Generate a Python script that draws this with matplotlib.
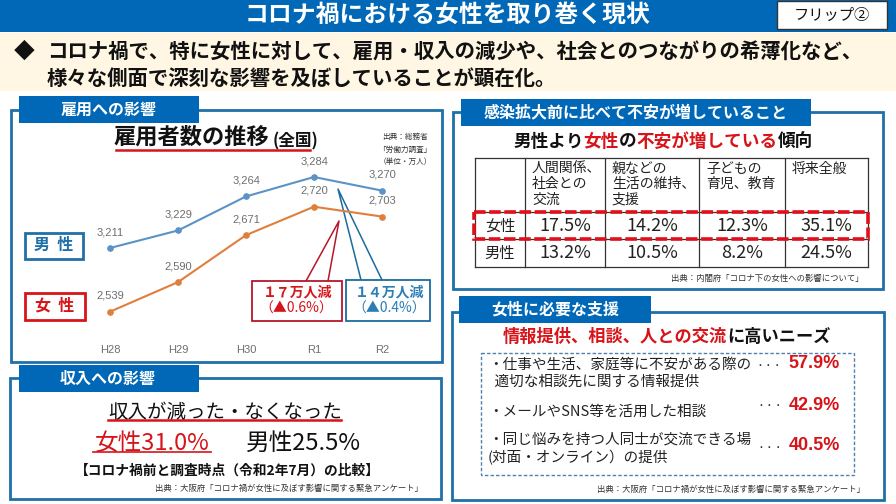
import matplotlib
matplotlib.use("Agg")
import matplotlib.pyplot as plt
from matplotlib.patches import Rectangle

plt.rcParams['font.family'] = ['Noto Sans CJK JP', 'DejaVu Sans']

# ---- data ----
years = ["H28", "H29", "H30", "R1", "R2"]
male = [3211, 3229, 3264, 3284, 3270]
female = [2539, 2590, 2671, 2720, 2703]

table_heads = ["人間関係、\n社会との\n交流", "親などの\n生活の維持、\n支援", "子どもの\n育児、教育", "将来全般"]
table_female = ["17.5%", "14.2%", "12.3%", "35.1%"]
table_male = ["13.2%", "10.5%", "8.2%", "24.5%"]

needs_text = ["・仕事や生活、家庭等に不安がある際の\n  適切な相談先に関する情報提供",
              "・メールやSNS等を活用した相談",
              "・同じ悩みを持つ人同士が交流できる場\n(対面・オンライン）の提供"]
needs_vals = ["57.9%", "42.9%", "40.5%"]

BLUE = "#0068B7"
FRAME = "#1F6FA8"
RED = "#D7141A"
LBLUE = "#5B93C7"
ORANGE = "#E07F3C"
GREY = "#6E6E6E"
INK = "#111111"

W, H = 896, 504
fig = plt.figure(figsize=(W / 100, H / 100), dpi=100, facecolor="white")
bg = fig.add_axes([0, 0, 1, 1])
bg.set_xlim(0, W)
bg.set_ylim(H, 0)
bg.axis("off")


def T(x, y, s, size, color=INK, weight="normal", ha="center", va="center", z=5, **kw):
    return bg.text(x, y, s, fontsize=size, color=color, fontweight=weight,
                   ha=ha, va=va, zorder=z, **kw)


def R(x0, y0, x1, y1, fc="none", ec="none", lw=0, z=1, **kw):
    bg.add_patch(Rectangle((x0, y0), x1 - x0, y1 - y0, fc=fc, ec=ec, lw=lw, zorder=z, **kw))


def runs(x, y, parts, size, weight="bold"):
    r = fig.canvas.get_renderer()
    for s, c in parts:
        t = T(x, y, s, size, c, weight, ha="left")
        x += t.get_window_extent(r).width


def panel(x0, y0, x1, y1, tx0, ty0, tx1, ty1, title, title_x, tsize=11.5):
    R(x0, y0, x1, y1, fc="white", ec=FRAME, lw=2, z=1)
    R(tx0, ty0, tx1, ty1, fc=BLUE, z=2)
    T(title_x, (ty0 + ty1) / 2, title, tsize, "white", "bold")


# header
R(0, 0, W, 32, fc=BLUE)
T(448, 15, "コロナ禍における女性を取り巻く現状", 17.2, "white", "bold")
R(777, 1, 887, 29, fc="white", ec="#333333", lw=1, z=2)
T(832, 15, "フリップ②", 11, INK, "normal")
R(0, 33, W, 91, fc="#FFF6E3")
T(24, 52, "◆", 15, INK, ha="center")
T(47, 52, "コロナ禍で、特に女性に対して、雇用・収入の減少や、社会とのつながりの希薄化など、", 14.7, INK, "bold", ha="left")
T(47, 78, "様々な側面で深刻な影響を及ぼしていることが顕在化。", 14.7, INK, "bold", ha="left")

# panels
panel(11, 110, 442, 362, 19, 96, 199, 123, "雇用への影響", 109)
panel(10, 378, 441, 499, 19, 365, 199, 392, "収入への影響", 108)
panel(453, 112, 883, 289, 461, 99, 811, 126, "感染拡大前に比べて不安が増していること", 636, 11.5)
panel(452, 312, 884, 500, 459, 296, 651, 323, "女性に必要な支援", 555)

# line chart: men and women have separate scales in the original
ax_m = fig.add_axes([76 / W, 1 - 340 / H, 340 / W, 220 / H])
ax_f = ax_m.twinx()
x = list(range(len(years)))
for ax, vals, col, lim in [(ax_m, male, LBLUE, (3116.4, 3342.6)),
                           (ax_f, female, ORANGE, (2490.2, 2869.5))]:
    ax.plot(x, vals, color=col, lw=1.5, marker="o", ms=3.8, zorder=3)
    ax.set_ylim(*lim)
    ax.set_yticks([])
    for xi, v in zip(x, vals):
        ax.annotate(f"{v:,}", (xi, v), xytext=(0, 11.5), textcoords="offset points",
                    ha="center", va="center", fontsize=8, color=GREY,
                    family=["Liberation Sans"])
ax_m.set_xlim(-0.5, 4.5)
ax_m.set_xticks(x, years)
ax_m.tick_params(axis="x", length=0, pad=3.5, labelcolor=GREY, labelsize=8)
for lab in ax_m.get_xticklabels():
    lab.set_family(["Liberation Sans"])
for ax in (ax_m, ax_f):
    ax.patch.set_alpha(0)
    for s in ax.spines.values():
        s.set_visible(False)
ax_m.set_zorder(5)
ax_f.set_zorder(5)

T(191, 137, "雇用者数の推移", 16, INK, "bold")
T(295, 141, "(全国)", 12, INK, "bold")
bg.plot([116, 310], [150, 150], color=RED, lw=1.8, zorder=6)
T(405, 137, "出典：総務省", 5.5, "#333333")
T(405, 150, "「労働力調査」", 5.5, "#333333")
T(405, 162, "（単位・万人）", 5.5, "#333333")

R(25, 233, 83, 259, fc="white", ec=FRAME, lw=2, z=3)
T(54, 245, "男  性", 11.5, FRAME, "bold")
R(25, 293, 85, 320, fc="white", ec=RED, lw=2, z=3)
T(55, 306, "女  性", 11.5, RED, "bold")

# callouts
bg.plot([306, 339, 328], [281, 221, 281], color="#B5172B", lw=1.1, zorder=7)
bg.plot([361, 338, 382], [280, 189, 280], color="#1B6C9E", lw=1.1, zorder=7)
R(252, 281, 342, 321, fc="white", ec="#B5172B", lw=1.3, z=8)
R(346, 280, 430, 321, fc="white", ec="#1B6C9E", lw=1.3, z=8)
T(298, 292, "１７万人減", 10, RED, "bold", z=9)
T(296, 309, "（▲0.6%）", 10, RED, z=9)
T(390, 292, "１４万人減", 10, "#2A7DB5", "bold", z=9)
T(389, 309, "（▲0.4%）", 10, "#2A7DB5", z=9)

# income
T(225, 412, "収入が減った・なくなった", 14, INK)
bg.plot([108, 341], [419.5, 419.5], color=RED, lw=1.8, zorder=6)
T(152, 443, "女性31.0%", 17, RED)
bg.plot([93, 211], [452, 452], color=RED, lw=1.2, zorder=6)
T(303, 443, "男性25.5%", 17, INK)
T(227, 471, "【コロナ禍前と調査時点（令和2年7月）の比較】", 9.9, INK, "bold")
T(423, 488, "出典：大阪府「コロナ禍が女性に及ぼす影響に関する緊急アンケート」", 6, "#333333", ha="right")

# anxiety table
runs(513, 142, [("男性より", INK), ("女性", RED), ("の", INK), ("不安が増している", RED), ("傾向", INK)], 12.7)
col_x = [475, 525, 605, 699, 785, 868]
row_y = [158, 212, 239, 267]
for xv in col_x:
    bg.plot([xv, xv], [row_y[0], row_y[-1]], color="#333333", lw=0.9, zorder=3)
for yv in row_y:
    bg.plot([col_x[0], col_x[-1]], [yv, yv], color="#333333", lw=0.9, zorder=3)
for i in range(4):
    T(col_x[i + 1] + 7, 162, table_heads[i], 10, "#222222", ha="left", va="top", linespacing=1.12)
    xc = (col_x[i + 1] + col_x[i + 2]) / 2
    T(xc, 226, table_female[i], 13, "#222222")
    T(xc, 253, table_male[i], 13, "#222222")
T(500, 226, "女性", 11, "#222222")
T(500, 253, "男性", 11, "#222222")
R(474, 212, 868, 238.5, ec="#E0101A", lw=2.6, z=6, ls=(0, (3.2, 1)))
T(864, 278, "出典：内閣府「コロナ下の女性への影響について」", 6, "#333333", ha="right")

# needs
runs(503, 337, [("情報提供、相談、人との交流", RED), ("に高いニーズ", INK)], 12.4)
R(481, 353, 854, 475, ec="#4F81AE", lw=1, z=3, ls=(0, (2.5, 1.5)))
T(488, 373, needs_text[0], 10.5, "#222222", ha="left", linespacing=1.25)
T(488, 412, needs_text[1], 10.5, "#222222", ha="left")
T(488, 449, needs_text[2], 10.5, "#222222", ha="left", linespacing=1.3)
for yv, xd, v in zip([364, 405, 446], [769, 770, 770], needs_vals):
    T(xd, yv + 1, "・・・", 6.5, "#222222")
    T(840, yv, v, 13, RED, "bold", ha="right", family=["Liberation Sans"])
T(865, 489, "出典：大阪府「コロナ禍が女性に及ぼす影響に関する緊急アンケート」", 6, "#333333", ha="right")

fig.savefig("out.png", dpi=100)
